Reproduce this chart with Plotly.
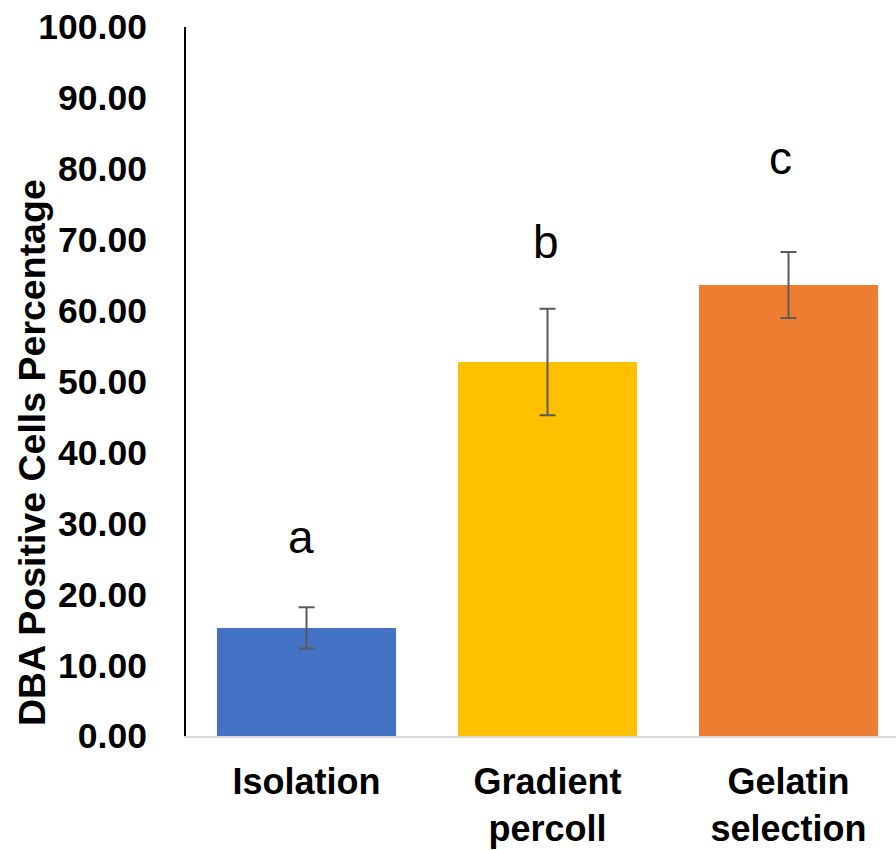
import plotly.graph_objects as go

categories = ["Isolation", "Gradient<br>percoll", "Gelatin<br>selection"]
values = [15.25, 52.75, 63.6]
errors = [2.9, 7.5, 4.65]
colors = ["#4472C4", "#FFC000", "#ED7D31"]
letters = ["a", "b", "c"]
letter_y = [28.1, 69.7, 81.5]
ytick_vals = [0, 10, 20, 30, 40, 50, 60, 70, 80, 90, 100]
ytick_text = [f"{v:.2f}" for v in ytick_vals]

fig = go.Figure()
fig.add_trace(go.Bar(
    x=categories, y=values,
    marker=dict(color=colors, line=dict(width=0)),
    width=0.743,
    error_y=dict(type="data", array=errors, visible=True,
                 color="#5a5a5a", thickness=2, width=8),
))

for c, t, yv, dx in zip(categories, letters, letter_y, [-6, -2, -8]):
    fig.add_annotation(x=c, y=yv, text=t, showarrow=False, xshift=dx,
                       yanchor="middle",
                       font=dict(family="Liberation Sans, Arial", size=46, color="black"))

fig.add_annotation(xref="paper", yref="paper", x=(32 - 186) / 710, y=(736 - 453) / 709,
                   text="<b>DBA Positive Cells Percentage</b>", textangle=-90,
                   showarrow=False, xanchor="center", yanchor="middle",
                   font=dict(family="Liberation Sans, Arial", size=37.5, color="black"))

fig.update_layout(
    width=896, height=850,
    margin=dict(l=186, r=0, t=27, b=114, autoexpand=False),
    plot_bgcolor="white", paper_bgcolor="white",
    showlegend=False,
    font=dict(family="Liberation Sans, Arial", color="black"),
)
fig.update_xaxes(
    range=[-0.5, 2.446], automargin=False,
    showline=True, linecolor="#d9d9d9", linewidth=2,
    showgrid=False, ticks="", zeroline=False,
    tickfont=dict(size=36, family="Liberation Sans, Arial", weight="bold"),
    ticklabelstandoff=13,
)
fig.update_yaxes(
    range=[0, 100], automargin=False,
    tickvals=ytick_vals, ticktext=ytick_text,
    showline=True, linecolor="black", linewidth=2,
    showgrid=False, zeroline=False, ticks="",
    tickfont=dict(size=35.5, family="Liberation Sans, Arial", weight="bold"),
    ticklabelstandoff=30,
)

fig.write_html("out.html")
